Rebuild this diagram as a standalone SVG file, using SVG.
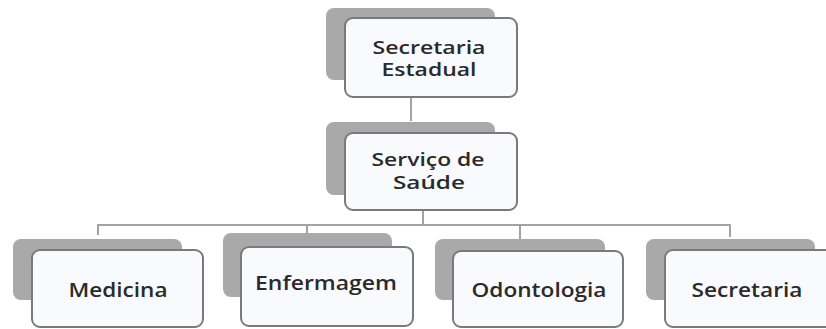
<svg xmlns="http://www.w3.org/2000/svg" width="826" height="329" viewBox="0 0 826 329">
<style>
.back{fill:#a9a9a9;}
.front{fill:#f8fafd;stroke:#7a7a7a;stroke-width:2;}
.lbl{font-family:"Open Sans","Noto Sans",sans-serif;font-size:18px;font-weight:600;fill:#2a2a2a;text-anchor:middle;}
.big{font-size:19px;}
.conn{stroke:#a3a3a3;stroke-width:2;fill:none;}
</style>
<rect width="826" height="329" fill="#ffffff"/>
<g id="connectors">
<path class="conn" d="M411 97 V121"/>
<path class="conn" d="M423 210 V225"/>
<path class="conn" d="M98 235 V225 H730 V237"/>
<path class="conn" d="M307 225 V234"/>
<path class="conn" d="M520 225 V239"/>
</g>
<g id="n1">
<rect class="back" x="326" y="8" width="169" height="72" rx="8"/>
<rect class="front" x="345" y="18" width="172" height="79" rx="8"/>
<text class="lbl" x="429" y="54" textLength="113" lengthAdjust="spacingAndGlyphs">Secretaria</text>
<text class="lbl" x="429" y="76" textLength="95" lengthAdjust="spacingAndGlyphs">Estadual</text>
</g>
<g id="n2">
<rect class="back" x="326" y="122" width="169" height="73" rx="8"/>
<rect class="front" x="345" y="133" width="172" height="77" rx="8"/>
<text class="lbl" x="428" y="166" textLength="113" lengthAdjust="spacingAndGlyphs">Serviço de</text>
<text class="lbl" x="429" y="189" textLength="72" lengthAdjust="spacingAndGlyphs">Saúde</text>
</g>
<g id="n3">
<rect class="back" x="13" y="239" width="169" height="61" rx="8"/>
<rect class="front" x="32" y="250" width="171" height="77" rx="8"/>
<text class="lbl big" x="118" y="297" textLength="99" lengthAdjust="spacingAndGlyphs">Medicina</text>
</g>
<g id="n4">
<rect class="back" x="223" y="233" width="169" height="64" rx="8"/>
<rect class="front" x="241" y="247" width="172" height="79" rx="8"/>
<text class="lbl big" x="326" y="290" textLength="142" lengthAdjust="spacingAndGlyphs">Enfermagem</text>
</g>
<g id="n5">
<rect class="back" x="435" y="239" width="170" height="61" rx="8"/>
<rect class="front" x="453" y="251" width="170" height="76" rx="8"/>
<text class="lbl big" x="539" y="297" textLength="135" lengthAdjust="spacingAndGlyphs">Odontologia</text>
</g>
<g id="n6">
<rect class="back" x="646" y="239" width="169" height="61" rx="8"/>
<rect class="front" x="665" y="250" width="172" height="77" rx="8"/>
<text class="lbl big" x="747" y="297" textLength="111" lengthAdjust="spacingAndGlyphs">Secretaria</text>
</g>
</svg>
